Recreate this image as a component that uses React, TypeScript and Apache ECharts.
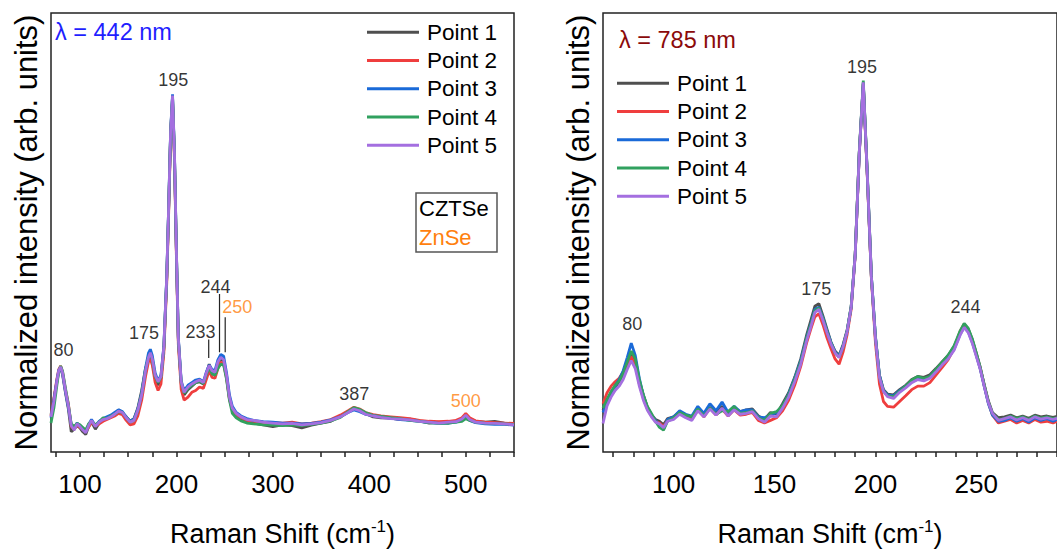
import React, { useEffect, useRef } from 'react';
import * as echarts from 'echarts';

const NAMES = ['Point 1', 'Point 2', 'Point 3', 'Point 4', 'Point 5'];
const COLORS = ['#4f4f4f', '#ef3e3e', '#1a6ad8', '#31a15f', '#a46fe0'];

// ---- Left panel (λ = 442 nm) ----
const LX = [70, 73, 76, 78, 80, 82, 85, 88, 91, 94,
  97, 100, 103, 106, 109, 112, 116, 120, 124, 128,
  132, 136, 140, 144, 148, 152, 156, 160, 164, 168,
  171, 173, 175, 178, 181, 184, 187, 190, 192, 194,
  196, 198, 200, 202, 205, 208, 212, 216, 220, 224,
  228, 231, 234, 237, 240, 243, 246, 249, 252, 255,
  258, 262, 267, 273, 280, 290, 300, 310, 320, 330,
  340, 350, 360, 370, 378, 384, 390, 396, 404, 412,
  422, 432, 442, 452, 462, 472, 482, 490, 496, 500,
  504, 510, 520, 530, 540, 550];

const L1 = [0.085, 0.120, 0.158, 0.183, 0.192, 0.176, 0.135, 0.098, 0.046, 0.052,
  0.060, 0.055, 0.046, 0.040, 0.058, 0.068, 0.052, 0.066, 0.072, 0.078,
  0.082, 0.085, 0.096, 0.088, 0.080, 0.070, 0.076, 0.100, 0.140, 0.190,
  0.212, 0.220, 0.205, 0.168, 0.152, 0.168, 0.235, 0.395, 0.555, 0.725,
  0.808, 0.675, 0.455, 0.255, 0.155, 0.130, 0.142, 0.150, 0.158, 0.160,
  0.155, 0.178, 0.200, 0.183, 0.178, 0.200, 0.212, 0.208, 0.172, 0.122,
  0.098, 0.085, 0.076, 0.070, 0.066, 0.062, 0.058, 0.062, 0.060, 0.055,
  0.061, 0.066, 0.070, 0.082, 0.092, 0.100, 0.096, 0.088, 0.080, 0.078,
  0.077, 0.074, 0.075, 0.071, 0.066, 0.068, 0.066, 0.071, 0.072, 0.082,
  0.076, 0.070, 0.068, 0.070, 0.066, 0.064];

const L2 = [0.082, 0.122, 0.165, 0.188, 0.196, 0.182, 0.142, 0.110, 0.058, 0.052,
  0.062, 0.056, 0.052, 0.048, 0.056, 0.068, 0.060, 0.064, 0.070, 0.074,
  0.078, 0.082, 0.088, 0.085, 0.072, 0.062, 0.064, 0.082, 0.118, 0.172,
  0.205, 0.212, 0.198, 0.158, 0.140, 0.155, 0.225, 0.385, 0.545, 0.720,
  0.800, 0.665, 0.445, 0.245, 0.142, 0.118, 0.125, 0.136, 0.140, 0.148,
  0.145, 0.165, 0.185, 0.170, 0.168, 0.190, 0.205, 0.200, 0.168, 0.120,
  0.096, 0.086, 0.078, 0.072, 0.070, 0.068, 0.067, 0.066, 0.068, 0.064,
  0.066, 0.069, 0.074, 0.084, 0.094, 0.102, 0.098, 0.090, 0.085, 0.082,
  0.080, 0.078, 0.076, 0.072, 0.070, 0.069, 0.070, 0.072, 0.078, 0.088,
  0.078, 0.071, 0.068, 0.067, 0.066, 0.065];

const L3 = [0.078, 0.118, 0.162, 0.186, 0.193, 0.178, 0.138, 0.102, 0.062, 0.055,
  0.066, 0.060, 0.054, 0.046, 0.062, 0.074, 0.060, 0.070, 0.076, 0.080,
  0.084, 0.090, 0.096, 0.092, 0.080, 0.070, 0.075, 0.098, 0.135, 0.192,
  0.225, 0.234, 0.220, 0.180, 0.162, 0.175, 0.242, 0.402, 0.562, 0.732,
  0.815, 0.684, 0.462, 0.262, 0.162, 0.140, 0.152, 0.158, 0.164, 0.166,
  0.160, 0.182, 0.198, 0.188, 0.186, 0.210, 0.222, 0.218, 0.180, 0.130,
  0.104, 0.090, 0.082, 0.076, 0.072, 0.069, 0.068, 0.066, 0.066, 0.064,
  0.065, 0.068, 0.073, 0.080, 0.090, 0.096, 0.092, 0.086, 0.083, 0.080,
  0.077, 0.074, 0.072, 0.070, 0.067, 0.065, 0.066, 0.068, 0.074, 0.082,
  0.072, 0.067, 0.064, 0.063, 0.063, 0.061];

const L4 = [0.066, 0.100, 0.150, 0.182, 0.196, 0.184, 0.145, 0.108, 0.064, 0.058,
  0.065, 0.062, 0.056, 0.050, 0.064, 0.070, 0.062, 0.068, 0.078, 0.076,
  0.082, 0.086, 0.092, 0.090, 0.078, 0.068, 0.072, 0.094, 0.132, 0.186,
  0.216, 0.224, 0.210, 0.172, 0.158, 0.170, 0.238, 0.398, 0.558, 0.728,
  0.810, 0.678, 0.458, 0.258, 0.158, 0.134, 0.145, 0.152, 0.158, 0.162,
  0.156, 0.176, 0.192, 0.178, 0.175, 0.190, 0.200, 0.198, 0.165, 0.118,
  0.088, 0.078, 0.071, 0.066, 0.064, 0.062, 0.061, 0.060, 0.062, 0.060,
  0.063, 0.066, 0.071, 0.079, 0.092, 0.101, 0.097, 0.090, 0.083, 0.081,
  0.078, 0.076, 0.072, 0.070, 0.067, 0.065, 0.066, 0.068, 0.070, 0.076,
  0.072, 0.068, 0.066, 0.065, 0.064, 0.063];

const L5 = [0.080, 0.115, 0.160, 0.185, 0.194, 0.180, 0.140, 0.105, 0.060, 0.050,
  0.064, 0.058, 0.050, 0.044, 0.060, 0.072, 0.058, 0.068, 0.074, 0.076,
  0.080, 0.086, 0.093, 0.090, 0.078, 0.068, 0.072, 0.095, 0.130, 0.185,
  0.215, 0.226, 0.212, 0.175, 0.160, 0.172, 0.240, 0.400, 0.560, 0.730,
  0.812, 0.680, 0.460, 0.260, 0.160, 0.136, 0.148, 0.155, 0.160, 0.164,
  0.158, 0.180, 0.197, 0.185, 0.182, 0.205, 0.216, 0.210, 0.175, 0.125,
  0.100, 0.088, 0.080, 0.074, 0.072, 0.068, 0.066, 0.064, 0.065, 0.062,
  0.064, 0.067, 0.072, 0.080, 0.090, 0.098, 0.094, 0.086, 0.082, 0.079,
  0.076, 0.075, 0.073, 0.070, 0.068, 0.066, 0.068, 0.069, 0.075, 0.084,
  0.074, 0.068, 0.066, 0.065, 0.064, 0.062];

// ---- Right panel (λ = 785 nm) ----
const RX = [65, 67, 69, 71, 73, 75, 77, 79, 81, 83,
  85, 87, 89, 91, 93, 95, 97, 100, 103, 106,
  109, 112, 115, 118, 121, 124, 127, 130, 133, 136,
  139, 142, 145, 148, 151, 154, 157, 160, 163, 166,
  168, 170, 172, 174, 176, 178, 180, 182, 184, 186,
  188, 190, 192, 194, 196, 198, 200, 202, 204, 206,
  209, 212, 215, 218, 221, 224, 227, 230, 233, 236,
  239, 242, 244, 246, 248, 250, 252, 254, 256, 258,
  261, 264, 267, 270, 273, 276, 279, 282, 285, 288,
  290];

const R1 = [0.095, 0.118, 0.135, 0.148, 0.160, 0.178, 0.200, 0.226, 0.205, 0.160,
  0.130, 0.102, 0.085, 0.074, 0.070, 0.062, 0.076, 0.080, 0.092, 0.084,
  0.078, 0.098, 0.082, 0.102, 0.090, 0.104, 0.086, 0.100, 0.092, 0.096,
  0.098, 0.082, 0.074, 0.090, 0.086, 0.110, 0.135, 0.170, 0.212, 0.268,
  0.300, 0.332, 0.338, 0.310, 0.280, 0.250, 0.230, 0.220, 0.245, 0.278,
  0.332, 0.452, 0.682, 0.840, 0.628, 0.398, 0.262, 0.175, 0.142, 0.132,
  0.130, 0.142, 0.152, 0.165, 0.172, 0.170, 0.176, 0.190, 0.205, 0.220,
  0.240, 0.272, 0.290, 0.280, 0.256, 0.225, 0.192, 0.152, 0.116, 0.090,
  0.078, 0.080, 0.084, 0.078, 0.082, 0.077, 0.084, 0.080, 0.082, 0.079,
  0.081];

const R2 = [0.110, 0.135, 0.150, 0.160, 0.168, 0.182, 0.198, 0.218, 0.198, 0.155,
  0.122, 0.098, 0.082, 0.070, 0.066, 0.058, 0.072, 0.076, 0.090, 0.080,
  0.074, 0.096, 0.080, 0.100, 0.084, 0.098, 0.082, 0.096, 0.084, 0.086,
  0.090, 0.072, 0.066, 0.072, 0.078, 0.094, 0.118, 0.152, 0.195, 0.250,
  0.280, 0.308, 0.315, 0.290, 0.260, 0.235, 0.212, 0.200, 0.228, 0.268,
  0.325, 0.448, 0.678, 0.838, 0.626, 0.396, 0.250, 0.155, 0.115, 0.104,
  0.102, 0.115, 0.128, 0.142, 0.150, 0.150, 0.158, 0.175, 0.192, 0.210,
  0.236, 0.275, 0.292, 0.278, 0.254, 0.222, 0.190, 0.150, 0.112, 0.084,
  0.066, 0.070, 0.074, 0.066, 0.072, 0.066, 0.074, 0.068, 0.070, 0.066,
  0.070];

const R3 = [0.090, 0.112, 0.132, 0.150, 0.165, 0.185, 0.215, 0.248, 0.220, 0.168,
  0.128, 0.100, 0.084, 0.072, 0.060, 0.052, 0.074, 0.080, 0.094, 0.086,
  0.082, 0.104, 0.088, 0.110, 0.094, 0.114, 0.090, 0.104, 0.092, 0.096,
  0.096, 0.080, 0.078, 0.084, 0.090, 0.104, 0.132, 0.168, 0.208, 0.262,
  0.292, 0.325, 0.330, 0.306, 0.276, 0.250, 0.228, 0.218, 0.242, 0.276,
  0.330, 0.450, 0.680, 0.842, 0.632, 0.402, 0.265, 0.175, 0.140, 0.130,
  0.128, 0.140, 0.150, 0.160, 0.166, 0.164, 0.172, 0.186, 0.200, 0.214,
  0.234, 0.268, 0.284, 0.274, 0.250, 0.220, 0.188, 0.148, 0.110, 0.084,
  0.070, 0.072, 0.078, 0.070, 0.076, 0.068, 0.078, 0.072, 0.076, 0.070,
  0.074];

const R4 = [0.100, 0.120, 0.138, 0.152, 0.162, 0.180, 0.205, 0.230, 0.212, 0.165,
  0.130, 0.104, 0.088, 0.070, 0.056, 0.050, 0.070, 0.078, 0.090, 0.084,
  0.080, 0.098, 0.082, 0.100, 0.086, 0.094, 0.092, 0.104, 0.088, 0.090,
  0.094, 0.078, 0.072, 0.088, 0.092, 0.106, 0.130, 0.165, 0.205, 0.260,
  0.290, 0.322, 0.328, 0.304, 0.274, 0.248, 0.226, 0.216, 0.240, 0.276,
  0.332, 0.452, 0.684, 0.846, 0.634, 0.402, 0.262, 0.172, 0.138, 0.128,
  0.126, 0.138, 0.150, 0.164, 0.172, 0.168, 0.172, 0.188, 0.204, 0.220,
  0.242, 0.276, 0.293, 0.282, 0.258, 0.226, 0.192, 0.152, 0.114, 0.088,
  0.074, 0.076, 0.082, 0.076, 0.080, 0.074, 0.082, 0.077, 0.080, 0.076,
  0.078];

const R5 = [0.065, 0.105, 0.125, 0.140, 0.150, 0.165, 0.188, 0.208, 0.190, 0.150,
  0.118, 0.095, 0.080, 0.068, 0.064, 0.055, 0.070, 0.074, 0.086, 0.078,
  0.072, 0.094, 0.080, 0.098, 0.084, 0.100, 0.082, 0.096, 0.086, 0.088,
  0.092, 0.076, 0.068, 0.082, 0.080, 0.100, 0.125, 0.160, 0.200, 0.255,
  0.285, 0.318, 0.325, 0.300, 0.272, 0.246, 0.226, 0.215, 0.240, 0.275,
  0.330, 0.450, 0.680, 0.842, 0.630, 0.400, 0.260, 0.170, 0.138, 0.126,
  0.122, 0.136, 0.146, 0.158, 0.165, 0.162, 0.168, 0.182, 0.198, 0.212,
  0.232, 0.266, 0.284, 0.272, 0.248, 0.218, 0.188, 0.148, 0.112, 0.088,
  0.072, 0.076, 0.080, 0.073, 0.078, 0.072, 0.080, 0.075, 0.078, 0.074,
  0.077];

// ---- Axis ticks ----
const LEFT_TICKS = [75, 100, 125, 150, 175, 200, 225, 250, 275, 300, 325, 350, 375, 400, 425, 450, 475, 500, 525, 550];
const LEFT_LABELS = [100, 200, 300, 400, 500];
const RIGHT_TICKS = [70, 80, 90, 100, 110, 120, 130, 140, 150, 160, 170, 180, 190, 200, 210, 220, 230, 240, 250, 260, 270, 280, 290];
const RIGHT_LABELS = [100, 150, 200, 250];

// ---- Peak annotations: [x, y, text, colour] ----
const BLACK = '#000000';
const ORANGE = '#ff7f0e';
const LEFT_ANN: [number, number, string, string][] = [
  [83, 0.232, '80', BLACK],
  [166.5, 0.272, '175', BLACK],
  [196.8, 0.848, '195', BLACK],
  [225, 0.274, '233', BLACK],
  [240.5, 0.375, '244', BLACK],
  [263, 0.33, '250', ORANGE],
  [384.5, 0.131, '387', BLACK],
  [500, 0.116, '500', ORANGE],
];
// leader lines: [x, yLow, yHigh]
const LEFT_LEADERS: [number, number, number][] = [
  [233.5, 0.214, 0.256],
  [244.7, 0.227, 0.36],
  [250.6, 0.227, 0.307],
];
const RIGHT_ANN: [number, number, string, string][] = [
  [79.5, 0.291, '80', BLACK],
  [170.7, 0.372, '175', BLACK],
  [193.4, 0.878, '195', BLACK],
  [244.6, 0.33, '244', BLACK],
];

const FONT = '"Liberation Sans", Arial, Helvetica, sans-serif';

export default function App() {
  const ref = useRef<HTMLDivElement>(null);

  useEffect(() => {
    if (!ref.current) return;
    const chart = echarts.init(ref.current, null, { renderer: 'svg' });
    const leftSets = [L1, L2, L3, L4, L5];
    const rightSets = [R1, R2, R3, R4, R5];
    const series: any[] = [];

    leftSets.forEach((arr, i) => {
      series.push({
        type: 'line', name: NAMES[i], xAxisIndex: 0, yAxisIndex: 0,
        data: LX.map((x, j) => [x, arr[j]]),
        symbol: 'none', silent: true, z: 2 + i,
        lineStyle: { width: 2.8, color: COLORS[i] },
        itemStyle: { color: COLORS[i] },
      });
    });
    rightSets.forEach((arr, i) => {
      series.push({
        type: 'line', name: NAMES[i], xAxisIndex: 1, yAxisIndex: 1,
        data: RX.map((x, j) => [x, arr[j]]),
        symbol: 'none', silent: true, z: 2 + i,
        lineStyle: { width: 2.8, color: COLORS[i] },
        itemStyle: { color: COLORS[i] },
      });
    });

    const annSeries = (idx: number, ann: [number, number, string, string][]) => ({
      type: 'scatter', name: 'ann' + idx, xAxisIndex: idx, yAxisIndex: idx,
      symbolSize: 1, silent: true, z: 20,
      itemStyle: { color: 'rgba(0,0,0,0)' },
      data: ann.map((a) => ({ value: [a[0], a[1]], name: a[2], label: { color: a[3] } })),
      label: { show: true, position: 'inside', formatter: '{b}', fontSize: 18, fontFamily: FONT, color: BLACK },
    });
    series.push(annSeries(0, LEFT_ANN));
    series.push(annSeries(1, RIGHT_ANN));
    LEFT_LEADERS.forEach((l, k) => {
      series.push({
        type: 'line', name: 'leader' + k, xAxisIndex: 0, yAxisIndex: 0,
        data: [[l[0], l[1]], [l[0], l[2]]], symbol: 'none', silent: true, z: 20,
        lineStyle: { color: '#222', width: 1.2 },
      });
    });

    const xName = 'Raman Shift (cm{sup|-1})';
    const xNameStyle = {
      fontSize: 27, fontFamily: FONT, color: BLACK, lineHeight: 32,
      rich: { sup: { fontSize: 17, fontFamily: FONT, color: BLACK, verticalAlign: 'top', lineHeight: 14 } },
    };
    const xAxisCommon = (gridIndex: number, min: number, max: number, ticks: number[], labels: number[]) => ({
      gridIndex, type: 'value', min, max,
      axisLine: { show: false },
      splitLine: { show: false },
      axisTick: { show: true, customValues: ticks, length: 5, inside: false, lineStyle: { color: '#222', width: 1.5 } },
      axisLabel: { show: true, customValues: labels, fontSize: 26, fontFamily: FONT, color: BLACK, margin: 19 },
      name: xName, nameLocation: 'middle', nameGap: 66, nameTextStyle: xNameStyle,
    });
    const yAxisCommon = (gridIndex: number) => ({
      gridIndex, type: 'value', min: 0, max: 1,
      axisLine: { show: false }, axisTick: { show: false }, axisLabel: { show: false }, splitLine: { show: false },
      name: 'Normalized intensity (arb. units)', nameLocation: 'middle', nameGap: 9,
      nameTextStyle: { fontSize: 31, fontFamily: FONT, color: BLACK },
    });

    const legendCommon = {
      data: NAMES, orient: 'vertical', itemWidth: 52, itemHeight: 3, itemGap: 0,
      icon: 'rect', padding: 0, selectedMode: false,
      textStyle: { fontSize: 22.5, fontFamily: FONT, color: BLACK, lineHeight: 28.3, padding: [0, 0, 0, 3] },
    };

    chart.setOption({
      animation: false,
      backgroundColor: '#ffffff',
      grid: [
        { left: 51, top: 13, width: 463, height: 453, show: true, borderColor: '#222', borderWidth: 1.5, backgroundColor: 'transparent' },
        { left: 603, top: 13, width: 462, height: 453, show: true, borderColor: '#222', borderWidth: 1.5, backgroundColor: 'transparent' },
      ],
      xAxis: [
        xAxisCommon(0, 70, 550, LEFT_TICKS, LEFT_LABELS),
        xAxisCommon(1, 65, 290, RIGHT_TICKS, RIGHT_LABELS),
      ],
      yAxis: [yAxisCommon(0), yAxisCommon(1)],
      legend: [
        { ...legendCommon, left: 367, top: 18 },
        { ...legendCommon, left: 617, top: 69 },
      ],
      graphic: [
        { type: 'text', x: 55, y: 32, style: { text: 'λ = 442 nm', fill: '#1f1fff', fontSize: 23.5, fontFamily: FONT, align: 'left', verticalAlign: 'middle' } },
        { type: 'text', x: 619, y: 40, style: { text: 'λ = 785 nm', fill: '#8b0a0a', fontSize: 23.5, fontFamily: FONT, align: 'left', verticalAlign: 'middle' } },
        { type: 'rect', shape: { x: 416, y: 193, width: 81, height: 59 }, style: { fill: 'none', stroke: '#555', lineWidth: 1.5 } },
        { type: 'text', x: 419, y: 208, style: { text: 'CZTSe', fill: BLACK, fontSize: 22, fontFamily: FONT, align: 'left', verticalAlign: 'middle' } },
        { type: 'text', x: 419, y: 237, style: { text: 'ZnSe', fill: ORANGE, fontSize: 22, fontFamily: FONT, align: 'left', verticalAlign: 'middle' } },
      ],
      series,
    });

    return () => chart.dispose();
  }, []);

  return (
    <div
      ref={ref}
      style={{ position: 'absolute', left: 0, top: 0, width: 1057, height: 555, background: '#fff' }}
    />
  );
}
